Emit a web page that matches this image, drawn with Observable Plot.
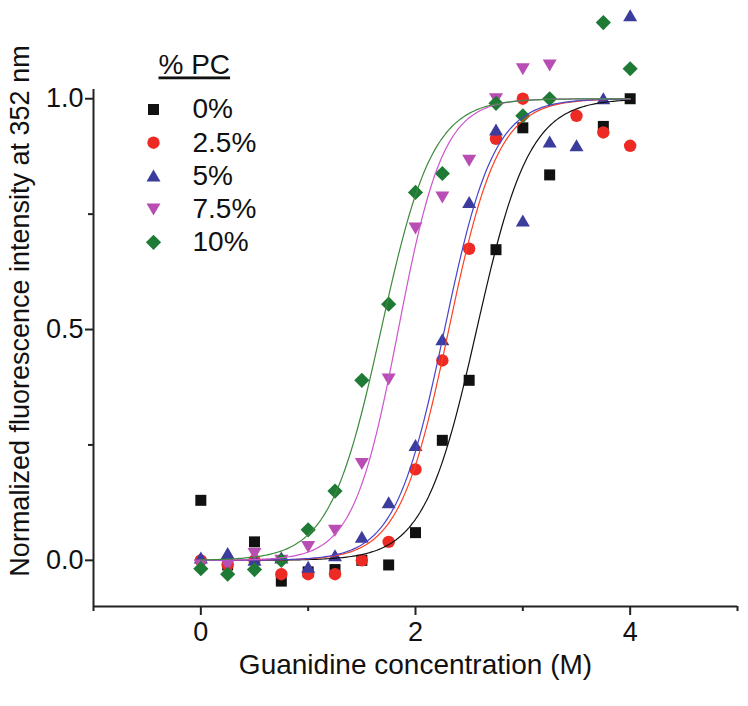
<!DOCTYPE html>
<html><head><meta charset="utf-8">
<script src="https://cdn.jsdelivr.net/npm/d3@7"></script>
<script src="https://cdn.jsdelivr.net/npm/@observablehq/plot@0.6"></script>
<style>html,body{margin:0;padding:0;background:#fff;}</style>
</head><body><div id="chart"></div>
<script>
// Guanidine concentration (M)
const concentration = [0, 0.25, 0.5, 0.75, 1, 1.25, 1.5, 1.75, 2, 2.25, 2.5, 2.75, 3, 3.25, 3.5, 3.75, 4];
// Normalized fluorescence intensity per % PC series (null = not visible)
const pc0   = [0.13, -0.01, 0.04, -0.045, -0.025, -0.02, 0.0, -0.01, 0.06, 0.26, 0.39, 0.673, 0.937, 0.835, null, 0.94, 1.0];
const pc2_5 = [0.0, -0.01, 0.0, -0.03, -0.03, -0.03, 0.0, 0.04, 0.197, 0.433, 0.675, 0.913, 1.0, null, 0.963, 0.927, 0.898];
const pc5   = [0.005, 0.015, 0.0, 0.005, -0.015, 0.01, 0.05, 0.125, 0.249, 0.478, 0.775, 0.932, 0.735, 0.906, 0.898, 1.0, 1.18];
const pc7_5 = [-0.01, -0.01, 0.015, 0.0, 0.03, 0.065, 0.21, 0.393, 0.72, 0.787, 0.867, 1.0, 1.065, 1.073, null, null, null];
const pc10  = [-0.018, -0.03, -0.02, 0.0, 0.066, 0.15, 0.39, 0.555, 0.797, 0.838, null, 0.99, 0.963, 1.0, null, 1.165, 1.065];
const seriesLabels = ["0%", "2.5%", "5%", "7.5%", "10%"];
const legendTitle = "% PC";
// Sigmoidal fit parameters (midpoint, width)
const fitMidpoint = [2.57, 2.31, 2.27, 1.84, 1.68];
const fitWidth = [0.245, 0.23, 0.23, 0.21, 0.24];
const fitRange = [0, 4];
// Axes
const xDomain = [-1, 5];
const yDomain = [-0.1, 1.02];
const xTicks = [0, 2, 4];
const xMinorTicks = [-1, 1, 3, 5];
const yTicks = [0, 0.5, 1.0];
const yMinorTicks = [0.25, 0.75];
const xTitle = "Guanidine concentration (M)";
const yTitle = "Normalized fluorescence intensity at 352 nm";

const seriesValues = [pc0, pc2_5, pc5, pc7_5, pc10];
const markerColors = ["#111111", "#ee2a24", "#3c3c9c", "#b84db3", "#1f7a35"];
const lineColors = ["#111111", "#ff4020", "#4545cc", "#cc55cc", "#3d8a3d"];

const poly = pts => ({draw(c) { c.moveTo(pts[0][0], pts[0][1]); for (let k = 1; k < pts.length; k++) c.lineTo(pts[k][0], pts[k][1]); c.closePath(); }});
const symbols = [
  poly([[-5.5,-5.5],[5.5,-5.5],[5.5,5.5],[-5.5,5.5]]),
  {draw(c) { c.moveTo(6.2, 0); c.arc(0, 0, 6.2, 0, 2 * Math.PI); }},
  poly([[0,-6.5],[7,5.5],[-7,5.5]]),
  poly([[0,6.5],[7,-5.5],[-7,-5.5]]),
  poly([[0,-7.6],[7.6,0],[0,7.6],[-7.6,0]])
];

const marks = [];
marks.push(Plot.axisX(xTicks, {tickSize: 9, tickPadding: 6, stroke: "#222", strokeWidth: 2, fontSize: 27, label: null}));
marks.push(Plot.axisX(xMinorTicks, {tickSize: 5, stroke: "#222", strokeWidth: 2, tickFormat: () => "", label: null}));
marks.push(Plot.axisY(yTicks, {tickSize: 8, tickPadding: 2, stroke: "#222", strokeWidth: 2, fontSize: 27, tickFormat: d3.format(".1f"), label: null}));
marks.push(Plot.axisY(yMinorTicks, {tickSize: 5, stroke: "#222", strokeWidth: 2, tickFormat: () => "", label: null}));
marks.push(Plot.ruleX([xDomain[0]], {stroke: "#222", strokeWidth: 2}));
marks.push(Plot.ruleY([yDomain[0]], {stroke: "#222", strokeWidth: 2}));

seriesValues.forEach((vals, i) => {
  const pts = vals.map((v, j) => ({x: concentration[j], y: v})).filter(d => d.y != null);
  marks.push(Plot.dot(pts, {x: "x", y: "y", symbol: symbols[i], fill: markerColors[i], stroke: "none"}));
});
seriesValues.forEach((vals, i) => {
  const xs = d3.range(fitRange[0], fitRange[1] + 1e-9, 0.02);
  const curve = xs.map(x => ({x, y: 1 / (1 + Math.exp((fitMidpoint[i] - x) / fitWidth[i]))}));
  marks.push(Plot.line(curve, {x: "x", y: "y", stroke: lineColors[i], strokeWidth: 1.2}));
});

// legend
marks.push(Plot.text([legendTitle], {frameAnchor: "top-left", dx: 65, dy: -24, textAnchor: "start", lineAnchor: "middle", fontSize: 28, fill: "#111"}));
seriesLabels.forEach((lab, i) => {
  marks.push(Plot.dot([lab], {frameAnchor: "top-left", dx: 60, dy: 20 + 33.2 * i, symbol: symbols[i], fill: markerColors[i], stroke: "none"}));
  marks.push(Plot.text([lab], {frameAnchor: "top-left", dx: 99, dy: 20 + 33.2 * i, textAnchor: "start", lineAnchor: "middle", fontSize: 28, fill: "#111"}));
});

// axis titles
marks.push(Plot.text([xTitle], {frameAnchor: "bottom", dy: 59, lineAnchor: "middle", textAnchor: "middle", fontSize: 28, fill: "#111"}));
marks.push(Plot.text([yTitle], {frameAnchor: "left", dx: -73, dy: -37, rotate: -90, textAnchor: "middle", lineAnchor: "middle", fontSize: 27, fill: "#111"}));

const chart = Plot.plot({
  width: 748, height: 706,
  marginLeft: 93, marginRight: 11, marginTop: 89, marginBottom: 100,
  x: {domain: xDomain},
  y: {domain: yDomain},
  style: {fontFamily: "'Liberation Sans', Arial, sans-serif", fontSize: "27px", color: "#111", background: "#fff", overflow: "visible"},
  marks
});
document.getElementById("chart").append(chart);
d3.select(chart).selectAll("text").filter(function() { return this.textContent === legendTitle; })
  .style("text-decoration", "underline");
</script>
</body></html>
